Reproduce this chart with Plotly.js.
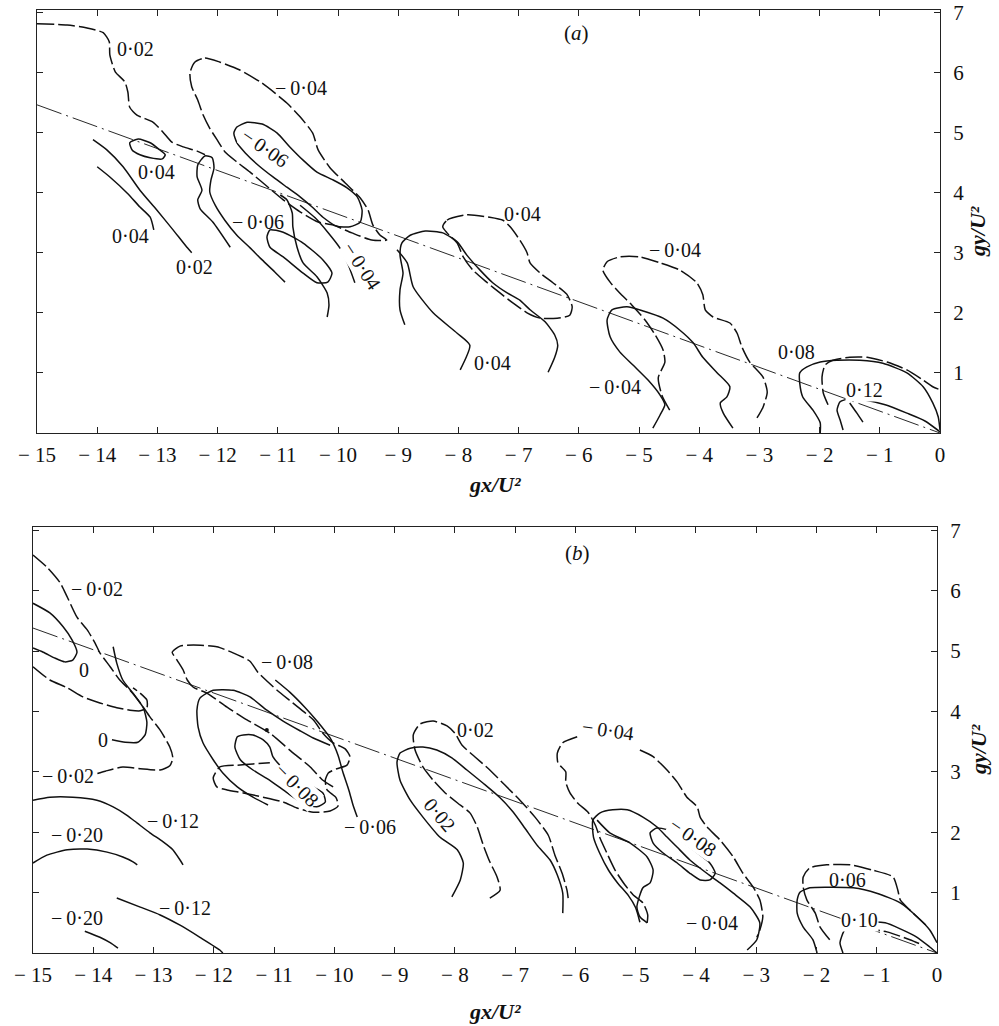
<!DOCTYPE html>
<html><head><meta charset="utf-8">
<script src="https://cdn.plot.ly/plotly-3.0.1.min.js"></script>
<style>html,body{margin:0;padding:0;background:#fff}#chart{width:999px;height:1026px}</style>
</head><body><div id="chart"></div>
<script>
// ---------- axis ticks ----------
const xTickVals = [-15,-14,-13,-12,-11,-10,-9,-8,-7,-6,-5,-4,-3,-2,-1,0];
const xTickText = ['\u2212 15','\u2212 14','\u2212 13','\u2212 12','\u2212 11','\u2212 10','\u2212 9','\u2212 8','\u2212 7','\u2212 6','\u2212 5','\u2212 4','\u2212 3','\u2212 2','\u2212 1','0'];
const yTickVals = [1,2,3,4,5,6,7];

// ---------- panel (a) curves ----------
const aCuspX = [-15, 0], aCuspY = [5.46, 0];
const aD1x = [-15.0,-14.50,-14.17,-13.90,-13.80,-13.79,-13.70,-13.54,-13.49,-13.46,-13.34,-13.07,-12.91,-12.76,-12.57,-12.34,-12.21];
const aD1y = [6.81,6.79,6.74,6.66,6.51,6.29,6.01,5.84,5.67,5.42,5.29,5.17,5.01,4.84,4.76,4.69,4.63];
const aSDx = [-11.79,-12.08,-12.29,-12.33,-12.26,-12.34,-12.33,-12.21,-12.09,-12.06,-12.11,-12.13,-12.04,-11.88,-11.68,-11.46,-11.26,-11.05,-10.88];
const aSDy = [3.09,3.51,3.73,3.88,4.04,4.26,4.46,4.61,4.58,4.41,4.21,4.01,3.79,3.54,3.29,3.08,2.88,2.68,2.51];
const aSAx = [-13.46,-13.32,-13.12,-12.96,-12.87,-12.92,-13.12,-13.29,-13.42,-13.46];
const aSAy = [4.83,4.89,4.83,4.71,4.63,4.56,4.58,4.63,4.71,4.83];
const aSBx = [-14.00,-13.79,-13.50,-13.29,-13.12,-13.06];
const aSBy = [4.43,4.26,3.99,3.76,3.59,3.38];
const aSCx = [-14.07,-13.84,-13.57,-13.29,-13.01,-12.74,-12.51,-12.43];
const aSCy = [4.88,4.71,4.43,4.04,3.71,3.38,3.09,3.00];
const aD2x = [-12.38,-12.21,-11.96,-11.63,-11.26,-10.85,-10.63,-10.42,-10.33,-10.13,-9.88,-9.63,-9.50,-9.42,-9.30,-9.19,-9.44,-9.77,-10.08,-10.33,-10.63,-10.91,-11.21,-11.46,-11.68,-11.88,-12.01,-12.13,-12.24,-12.33,-12.43,-12.46,-12.38];
const aD2y = [6.17,6.24,6.17,6.04,5.82,5.49,5.26,4.99,4.71,4.41,4.16,3.91,3.71,3.46,3.29,3.21,3.21,3.33,3.46,3.51,3.68,3.88,4.13,4.34,4.51,4.68,4.88,5.07,5.29,5.54,5.76,5.99,6.17];
const aU06x = [-11.68,-11.51,-11.26,-11.01,-10.80,-10.58,-10.35,-10.08,-9.85,-9.68,-9.60,-9.63,-9.80,-10.02,-10.25,-10.43,-10.63,-10.85,-11.08,-11.33,-11.54,-11.68,-11.73,-11.68];
const aU06y = [5.09,5.17,5.14,4.99,4.76,4.54,4.34,4.21,4.08,3.93,3.71,3.51,3.43,3.44,3.59,3.76,3.93,4.09,4.26,4.46,4.66,4.83,4.99,5.09];
const aL06x = [-11.18,-11.13,-10.91,-10.58,-10.25,-10.10,-10.17,-10.35,-10.58,-10.91,-11.13,-11.18];
const aL06y = [3.26,3.38,3.34,3.16,2.88,2.66,2.51,2.50,2.66,2.93,3.09,3.26];
const aSFx = [-10.96,-10.85,-10.76,-10.75,-10.68,-10.58,-10.35,-10.18,-10.15,-10.18];
const aSFy = [3.96,3.88,3.66,3.43,3.09,2.83,2.60,2.33,2.13,1.93];
const aSHx = [-10.63,-10.38,-10.17,-9.97,-9.83,-9.72];
const aSHy = [3.79,3.58,3.34,3.08,2.80,2.50];
const aD3x = [-8.26,-8.19,-7.86,-7.48,-7.26,-7.14,-6.98,-6.86,-6.81,-6.64,-6.43,-6.20,-6.11,-6.15,-6.36,-6.64,-6.86,-7.09,-7.31,-7.52,-7.76,-7.92,-8.02,-8.19,-8.26];
const aD3y = [3.43,3.54,3.63,3.59,3.54,3.43,3.21,3.00,2.83,2.66,2.50,2.31,2.10,1.96,1.91,1.91,2.00,2.16,2.33,2.50,2.71,2.93,3.16,3.33,3.43];
const aS2Ax = [-8.89,-8.97,-8.97,-8.92,-8.97,-8.94,-8.80,-8.55,-8.26,-8.02,-7.86,-7.64,-7.43,-7.19,-6.98,-6.81,-6.56,-6.40,-6.35,-6.40,-6.51];
const aS2Ay = [1.80,2.05,2.38,2.66,2.96,3.16,3.29,3.36,3.33,3.18,2.96,2.71,2.50,2.33,2.21,2.05,1.85,1.63,1.46,1.26,1.01];
const aS2Bx = [-9.02,-8.85,-8.75,-8.42,-8.02,-7.81,-7.97];
const aS2By = [3.05,2.83,2.43,2.00,1.66,1.46,1.05];
const aD4x = [-4.49,-4.62,-4.68,-4.57,-4.60,-4.73,-4.90,-5.12,-5.32,-5.48,-5.60,-5.53,-5.32,-4.98,-4.65,-4.32,-4.04,-3.94,-3.90,-3.77,-3.49,-3.37,-3.29,-3.16,-2.94,-2.87,-2.94,-3.04];
const aD4y = [0.38,0.63,0.92,1.18,1.38,1.63,1.88,2.13,2.33,2.51,2.71,2.85,2.93,2.93,2.83,2.71,2.50,2.30,2.05,1.93,1.83,1.66,1.43,1.18,0.93,0.68,0.43,0.25];
const aS3x = [-4.77,-4.65,-4.57,-4.65,-4.85,-5.10,-5.32,-5.48,-5.53,-5.45,-5.20,-4.93,-4.60,-4.32,-4.10,-3.94,-3.70,-3.49,-3.54,-3.65,-3.60,-3.44];
const aS3y = [0.08,0.30,0.47,0.63,0.88,1.13,1.35,1.60,1.88,2.05,2.10,2.03,1.91,1.71,1.50,1.26,1.00,0.77,0.60,0.50,0.33,0.08];
const aS08x = [-1.99,-1.99,-2.11,-2.28,-2.33,-2.33,-2.21,-1.99,-1.71,-1.33,-0.95,-0.55,-0.28,-0.12,-0.03,0];
const aS08y = [0,0.17,0.38,0.60,0.83,1.00,1.10,1.18,1.21,1.21,1.16,1.00,0.77,0.50,0.27,0.05];
const aD5x = [-1.86,-1.94,-1.96,-1.91,-1.78,-1.50,-1.21,-0.88,-0.55,-0.28,-0.12,0];
const aD5y = [0.47,0.67,0.93,1.13,1.21,1.26,1.26,1.18,1.05,0.88,0.77,0.72];
const aS12x = [-1.61,-1.66,-1.71,-1.66,-1.50,-1.25,-0.91,-0.55,-0.25,0];
const aS12y = [0.05,0.22,0.38,0.52,0.57,0.55,0.47,0.33,0.20,0.02];
const aS12Bx = [-1.50,-1.38,-1.28];
const aS12By = [0.50,0.33,0.18];

// ---------- panel (b) curves ----------
const bCuspX = [-15, 0], bCuspY = [5.38, 0];
const bD1x = [-15.0,-14.77,-14.55,-14.43,-14.27,-14.10,-13.97,-13.89,-13.72,-13.56,-13.39,-13.22,-13.06,-12.89,-12.73,-12.68,-12.73,-12.89,-13.22,-13.51,-13.80,-13.97];
const bD1y = [6.59,6.39,6.13,5.89,5.56,5.35,5.13,4.97,4.74,4.52,4.35,4.14,3.91,3.69,3.41,3.23,3.10,3.03,3.05,3.08,3.01,2.96];
const bS0Ax = [-15,-14.72,-14.50,-14.35,-14.27,-14.34,-14.47,-14.63,-14.83,-15];
const bS0Ay = [5.79,5.63,5.40,5.18,4.98,4.85,4.82,4.88,4.98,5.05];
const bD2x = [-15,-14.72,-14.43,-14.17,-13.89,-13.61,-13.39,-13.22,-13.11,-13.11,-13.22,-13.34];
const bD2y = [4.74,4.52,4.39,4.24,4.14,4.06,4.02,4.01,4.06,4.19,4.30,4.39];
const bS0Bx = [-13.67,-13.61,-13.51,-13.34,-13.17,-13.11,-13.14,-13.26,-13.47,-13.69];
const bS0By = [5.07,4.80,4.52,4.30,4.06,3.82,3.61,3.49,3.49,3.53];
const bS20Ax = [-15,-14.77,-14.43,-14.10,-13.77,-13.51,-13.34,-13.27];
const bS20Ay = [1.49,1.62,1.71,1.72,1.67,1.59,1.51,1.46];
const bS20Bx = [-14.14,-13.89,-13.72,-13.59];
const bS20By = [0.36,0.26,0.17,0.08];
const bS12Ax = [-15,-14.72,-14.34,-13.94,-13.67,-13.44,-13.27,-13.06,-12.84,-12.68,-12.56,-12.51];
const bS12Ay = [2.53,2.58,2.58,2.53,2.42,2.28,2.15,1.99,1.84,1.71,1.54,1.46];
const bS12Bx = [-13.61,-13.22,-12.89,-12.56,-12.23,-11.90,-11.85];
const bS12By = [0.91,0.76,0.63,0.46,0.26,0.05,0];
const bDG2x = [-10.02,-10.19,-10.40,-10.74,-11.07,-11.45,-11.78,-12.11,-12.34,-12.44,-12.51,-12.61,-12.69,-12.56,-12.34,-11.95,-11.68,-11.40,-11.27,-10.95,-10.69,-10.35,-10.19,-10.02,-9.82,-9.74,-9.79,-9.96,-10.10,-10.15,-10.12,-9.97,-9.94,-10.07,-10.35,-10.62,-10.85,-11.18,-11.51,-11.78,-11.95,-12.01,-11.90,-11.61,-11.35,-11.07];
const bDG2y = [2.75,2.86,3.08,3.36,3.64,3.86,4.07,4.30,4.40,4.52,4.69,4.85,4.98,5.08,5.10,5.07,4.97,4.83,4.65,4.35,4.14,3.86,3.64,3.48,3.38,3.25,3.11,3.05,2.98,2.86,2.70,2.57,2.43,2.35,2.33,2.40,2.50,2.58,2.65,2.70,2.75,2.90,3.08,3.11,3.13,3.15];
const bSG2x = [-11.10,-11.35,-11.61,-11.85,-12.01,-12.18,-12.26,-12.28,-12.23,-12.01,-11.68,-11.40,-11.12,-10.85,-10.57,-10.35,-10.07];
const bSG2y = [2.45,2.58,2.75,2.98,3.20,3.48,3.74,4.02,4.22,4.35,4.35,4.24,4.02,3.84,3.68,3.56,3.44];
const bS08Ax = [-11.61,-11.65,-11.56,-11.35,-11.07,-10.78,-10.52,-10.29,-10.15,-10.19,-10.35,-10.62,-10.87,-11.02,-11.07,-11.18,-11.35,-11.51,-11.61];
const bS08Ay = [3.58,3.41,3.20,3.03,2.86,2.65,2.48,2.42,2.50,2.65,2.75,2.91,3.08,3.25,3.41,3.53,3.61,3.61,3.58];
const bS06x = [-10.98,-10.74,-10.49,-10.27,-10.07,-9.94,-9.86,-9.76,-9.69,-9.62];
const bS06y = [4.52,4.32,4.07,3.82,3.56,3.28,3.00,2.70,2.45,2.25];
const bDotX = [-11.12], bDotY = [3.69];
const bSpeckX = [-15.33], bSpeckY = [6.49];
const bDG3x = [-7.42,-7.25,-7.30,-7.42,-7.53,-7.63,-7.75,-7.95,-8.16,-8.36,-8.53,-8.66,-8.69,-8.58,-8.36,-8.13,-8.00,-7.88,-7.67,-7.42,-7.17,-6.92,-6.67,-6.45,-6.34,-6.22,-6.14,-6.12];
const bDG3y = [0.91,1.04,1.26,1.51,1.79,2.09,2.32,2.48,2.65,2.86,3.08,3.36,3.61,3.79,3.84,3.76,3.64,3.44,3.25,3.03,2.78,2.53,2.25,1.95,1.62,1.32,1.04,0.91];
const bSG3x = [-8.05,-7.91,-7.86,-7.96,-8.25,-8.53,-8.74,-8.91,-8.96,-8.91,-8.74,-8.53,-8.30,-8.05,-7.80,-7.53,-7.25,-7.03,-6.84,-6.64,-6.42,-6.30,-6.21,-6.21];
const bSG3y = [0.93,1.21,1.49,1.71,1.92,2.25,2.53,2.86,3.16,3.31,3.39,3.41,3.36,3.23,3.03,2.81,2.57,2.33,2.07,1.79,1.54,1.29,0.99,0.66];
const bDG4x = [-4.81,-4.80,-4.88,-5.04,-5.18,-5.34,-5.48,-5.59,-5.67,-5.79,-5.96,-6.09,-6.16,-6.16,-6.29,-6.30,-6.21,-5.97,null,-4.93,-4.71,-4.48,-4.31,-4.15,-3.98,-3.93,-3.82,-3.60,-3.38,-3.22,-3.05,-2.94,-2.89,-2.94,-2.99];
const bDG4y = [0.50,0.63,0.83,0.96,1.13,1.37,1.66,1.90,2.12,2.33,2.48,2.65,2.83,3.00,3.15,3.31,3.48,3.58,null,3.36,3.25,3.03,2.83,2.58,2.42,2.25,2.09,1.87,1.59,1.32,1.09,0.88,0.60,0.38,0.26];
const bSG4x = [-4.93,-5.00,-5.12,-5.30,-5.45,-5.60,-5.70,-5.71,-5.59,-5.38,-5.14,-4.88,-4.65,-4.48,-4.31,-4.10,-3.82,-3.60,-3.38,-3.10,-2.94,-2.99,-3.15];
const bSG4y = [0.51,0.75,0.95,1.16,1.37,1.66,1.92,2.20,2.32,2.37,2.37,2.25,2.09,1.92,1.75,1.54,1.32,1.16,0.99,0.76,0.50,0.22,0.05];
const bSG4Bx = [-5.64,-5.43,-5.09,-4.81,-4.71,-4.76,-4.88,-4.98,-4.93,-4.81];
const bSG4By = [2.20,1.99,1.82,1.59,1.37,1.16,1.08,0.76,0.60,0.50];
const bS08Bx = [-4.76,-4.65,-4.48,-4.26,-3.98,-3.77,-3.68,-3.77,-3.93,-4.10,-4.31,-4.55,-4.71,-4.76];
const bS08By = [1.99,2.07,2.04,1.87,1.66,1.49,1.32,1.21,1.21,1.32,1.49,1.66,1.82,1.99];
const bD06x = [-1.78,-1.94,-2.02,-2.16,-2.22,-2.22,-2.11,-1.83,-1.44,-1.06,-0.73,-0.65,-0.61,-0.45,-0.28,-0.15];
const bD06y = [0.22,0.43,0.66,0.88,1.09,1.26,1.41,1.46,1.46,1.37,1.26,1.04,0.88,0.71,0.55,0.43];
const bS06Bx = [-1.99,-2.06,-2.22,-2.32,-2.32,-2.27,-2.11,-1.83,-1.39,-1.00,-0.61,-0.33,-0.12,0];
const bS06By = [0,0.22,0.43,0.66,0.88,1.01,1.08,1.09,1.08,0.99,0.83,0.60,0.38,0.17];
const bS10x = [-1.56,-1.61,-1.53,-1.33,-1.11,-0.86,-0.61,-0.33,-0.12,0];
const bS10y = [0,0.17,0.38,0.46,0.51,0.50,0.40,0.26,0.10,0];
const bD10x = [-1.23,-0.83,-0.45,-0.23];
const bD10y = [0.41,0.35,0.22,0.13];

// ---------- contour labels ----------
const aLabText = ['0·02','\u2212\u20090·04','\u2212\u20090·06','0·04','0·04','0·02','\u2212\u20090·06','\u2212\u20090·04','0·04','0·04','\u2212\u20090·04','\u2212\u20090·04','0·08','0·12'];
const aLabX    = [-13.36,-10.61,-11.21,-13.01,-13.44,-12.39,-11.33,-9.60,-6.93,-7.44,-4.40,-5.40,-2.38,-1.25];
const aLabY    = [6.39,5.74,4.74,4.34,3.28,2.76,3.51,2.78,3.64,1.16,3.05,0.77,1.35,0.72];
const aLabAng  = [0,0,35,0,0,0,0,57,0,0,0,0,0,0];
const aLabBg   = [0,0,1,0,0,0,0,1,0,0,0,0,0,1];
const bLabText = ['\u2212\u20090·02','0','0','\u2212\u20090·02','\u2212\u20090·20','\u2212\u20090·12','\u2212\u20090·20','\u2212\u20090·12','\u2212\u20090·08','\u2212\u20090·08','\u2212\u20090·06','0·02','0·02','\u2212\u20090·04','\u2212\u20090·08','\u2212\u20090·04','0·06','0·10'];
const bLabX    = [-13.94,-14.15,-13.84,-14.42,-14.27,-12.68,-14.27,-12.48,-10.78,-10.62,-9.41,-7.65,-8.25,-5.46,-4.05,-3.73,-1.49,-1.28];
const bLabY    = [6.03,4.69,3.53,2.93,1.95,2.19,0.58,0.75,4.82,2.78,2.09,3.69,2.28,3.69,1.92,0.50,1.21,0.55];
const bLabAng  = [0,0,0,0,0,0,0,0,0,45,0,0,50,8,35,0,0,0];
const bLabBg   = [0,0,0,0,0,0,0,0,0,1,0,0,1,0,1,0,0,1];

// ---------- build ----------
const FONT = 'Liberation Serif, Times New Roman, serif';
function tr(xs, ys, kind, ax) {
  const dash = kind === 'dash' ? '17px,4px' : (kind === 'cusp' ? '26px,5px,2px,5px' : 'solid');
  return {type:'scatter', mode:'lines', x:xs, y:ys, xaxis: ax === 2 ? 'x2' : 'x', yaxis: ax === 2 ? 'y2' : 'y',
    line:{color:'#111', width: kind === 'cusp' ? 0.9 : 1.5, dash: dash, shape: kind === 'cusp' ? 'linear' : 'spline', smoothing: 0.6},
    hoverinfo:'skip', showlegend:false, connectgaps:false};
}
const traces = [
  tr(aCuspX,aCuspY,'cusp',1), tr(aD1x,aD1y,'dash',1), tr(aSDx,aSDy,'solid',1), tr(aSAx,aSAy,'solid',1),
  tr(aSBx,aSBy,'solid',1), tr(aSCx,aSCy,'solid',1), tr(aD2x,aD2y,'dash',1), tr(aU06x,aU06y,'solid',1),
  tr(aL06x,aL06y,'solid',1), tr(aSFx,aSFy,'solid',1), tr(aSHx,aSHy,'solid',1), tr(aD3x,aD3y,'dash',1),
  tr(aS2Ax,aS2Ay,'solid',1), tr(aS2Bx,aS2By,'solid',1), tr(aD4x,aD4y,'dash',1), tr(aS3x,aS3y,'solid',1),
  tr(aS08x,aS08y,'solid',1), tr(aD5x,aD5y,'dash',1), tr(aS12x,aS12y,'solid',1), tr(aS12Bx,aS12By,'solid',1),
  tr(bCuspX,bCuspY,'cusp',2), tr(bD1x,bD1y,'dash',2), tr(bS0Ax,bS0Ay,'solid',2), tr(bD2x,bD2y,'dash',2),
  tr(bS0Bx,bS0By,'solid',2), tr(bS20Ax,bS20Ay,'solid',2), tr(bS20Bx,bS20By,'solid',2), tr(bS12Ax,bS12Ay,'solid',2),
  tr(bS12Bx,bS12By,'solid',2), tr(bDG2x,bDG2y,'dash',2), tr(bSG2x,bSG2y,'solid',2), tr(bS08Ax,bS08Ay,'solid',2),
  tr(bS06x,bS06y,'solid',2), tr(bDG3x,bDG3y,'dash',2), tr(bSG3x,bSG3y,'solid',2), tr(bDG4x,bDG4y,'dash',2),
  tr(bSG4x,bSG4y,'solid',2), tr(bSG4Bx,bSG4By,'solid',2), tr(bS08Bx,bS08By,'solid',2), tr(bD06x,bD06y,'dash',2),
  tr(bS06Bx,bS06By,'solid',2), tr(bS10x,bS10y,'solid',2), tr(bD10x,bD10y,'dash',2),
  {type:'scatter', mode:'markers', x:bDotX, y:bDotY, xaxis:'x2', yaxis:'y2', marker:{color:'#111', size:4}, hoverinfo:'skip', showlegend:false},
  {type:'scatter', mode:'markers', x:bSpeckX, y:bSpeckY, xaxis:'x2', yaxis:'y2', cliponaxis:false, marker:{color:'#333', size:3}, hoverinfo:'skip', showlegend:false}
];

const anns = [];
function addLabels(texts, xs, ys, angs, bgs, ax) {
  for (let i = 0; i < texts.length; i++) {
    anns.push({text: texts[i], x: xs[i], y: ys[i], xref: ax === 2 ? 'x2' : 'x', yref: ax === 2 ? 'y2' : 'y',
      showarrow:false, textangle: angs[i], font:{family:FONT, size:20, color:'#111'},
      bgcolor: bgs[i] ? 'rgba(255,255,255,1)' : 'rgba(0,0,0,0)', borderpad: 0, xanchor:'center', yanchor:'middle'});
  }
}
addLabels(aLabText, aLabX, aLabY, aLabAng, aLabBg, 1);
addLabels(bLabText, bLabX, bLabY, bLabAng, bLabBg, 2);
anns.push({text:'(<i>a</i>)', x:-6.03, y:6.66, xref:'x', yref:'y', showarrow:false, xanchor:'center', yanchor:'middle', font:{family:FONT, size:21, color:'#111'}});
anns.push({text:'(<i>b</i>)', x:-5.97, y:6.62, xref:'x2', yref:'y2', showarrow:false, xanchor:'center', yanchor:'middle', font:{family:FONT, size:21, color:'#111'}});
const titleFont = {family:FONT, size:22, color:'#111'};
anns.push({text:'<b><i>gx/U²</i></b>', x:0.4955, y:0.5273, xref:'paper', yref:'paper', xanchor:'center', yanchor:'middle', showarrow:false, font:titleFont});
anns.push({text:'<b><i>gx/U²</i></b>', x:0.4955, y:0.0137, xref:'paper', yref:'paper', xanchor:'center', yanchor:'middle', showarrow:false, font:titleFont});
anns.push({text:'<b><i>gy/U²</i></b>', x:0.979, y:0.774, xref:'paper', yref:'paper', xanchor:'center', yanchor:'middle', showarrow:false, textangle:-90, font:titleFont});
anns.push({text:'<b><i>gy/U²</i></b>', x:0.979, y:0.269, xref:'paper', yref:'paper', xanchor:'center', yanchor:'middle', showarrow:false, textangle:-90, font:titleFont});

const tickFont = {family:FONT, size:21, color:'#111'};
function xax(dom, anchor) {
  return {domain: dom, range:[-15,0], anchor: anchor, tickvals:xTickVals, ticktext:xTickText, ticks:'inside', ticklen:6,
    tickcolor:'#222', showline:true, linecolor:'#222', linewidth:1, mirror:'ticks', showgrid:false, zeroline:false,
    tickfont:tickFont, ticklabelstandoff:3, fixedrange:true};
}
function yax(dom, top, anchor) {
  return {domain: dom, range:[0, top], anchor: anchor, side:'right', tickvals:yTickVals, ticks:'inside', ticklen:6,
    tickcolor:'#222', showline:true, linecolor:'#222', linewidth:1, mirror:'ticks', showgrid:false, zeroline:false,
    tickfont:tickFont, ticklabelstandoff:8, fixedrange:true};
}
const layout = {
  width:999, height:1026, margin:{l:0, r:0, t:0, b:0}, paper_bgcolor:'#fff', plot_bgcolor:'#fff', showlegend:false,
  xaxis: xax([0.03704, 0.94094], 'y'),
  yaxis: yax([0.57797, 0.99025], 7.038, 'x'),
  xaxis2: xax([0.03303, 0.93794], 'y2'),
  yaxis2: yax([0.07115, 0.48635], 7.053, 'x2'),
  annotations: anns
};
Plotly.newPlot('chart', traces, layout, {staticPlot:true, displayModeBar:false});
</script></body></html>
